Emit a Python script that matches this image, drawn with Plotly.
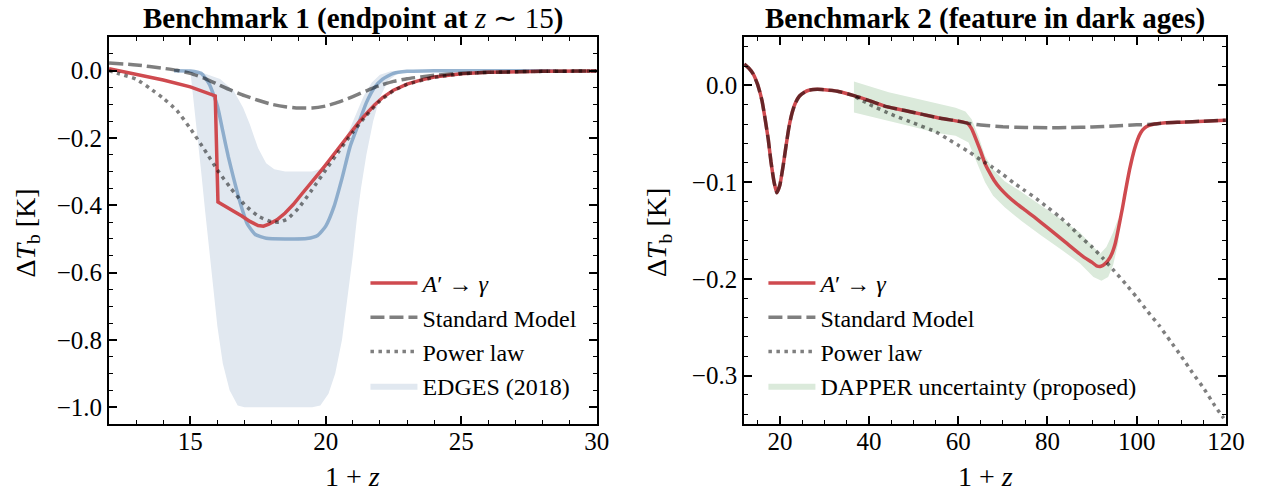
import plotly.graph_objects as go

FONT = "Liberation Serif"

# ---------------- Benchmark 1 (left panel) ----------------
red1_x = [12, 13, 14, 15, 15.5, 15.92, 16.02, 16.3, 16.6, 16.9, 17.2, 17.5, 17.7, 17.9, 18.2, 18.5,
          18.8, 19.1, 19.4, 19.7, 20.0, 20.3, 20.6, 20.9, 21.2, 21.5, 21.8, 22.1, 22.5, 23, 23.5,
          24, 25, 26, 27, 28, 30]
red1_y = [0.006, -0.010, -0.028, -0.048, -0.062, -0.075, -0.390, -0.405, -0.418, -0.432, -0.448,
          -0.460, -0.462, -0.456, -0.443, -0.423, -0.398, -0.368, -0.340, -0.310, -0.280, -0.248,
          -0.215, -0.183, -0.155, -0.128, -0.102, -0.080, -0.058, -0.040, -0.028, -0.019, -0.009,
          -0.005, -0.003, -0.002, -0.001]

sm1_x = [12, 13, 14, 14.5, 15, 15.5, 16, 16.5, 17, 17.5, 18, 18.5, 19, 19.5, 20, 20.5, 21, 21.5,
         22, 22.5, 23, 24, 25, 26, 28, 30]
sm1_y = [0.023, 0.017, 0.007, 0.001, -0.008, -0.022, -0.040, -0.058, -0.074, -0.088, -0.100,
         -0.107, -0.111, -0.111, -0.105, -0.093, -0.077, -0.060, -0.044, -0.032, -0.024, -0.014,
         -0.008, -0.005, -0.002, -0.001]

pl1_x = [12, 12.4, 13, 13.5, 14, 14.5, 15, 15.5, 16, 16.5, 17, 17.5, 18, 18.3, 18.6, 19, 19.5,
         20, 20.5, 21, 21.5, 22, 22.5, 23, 24, 25, 26, 28, 30]
pl1_y = [0.0, -0.010, -0.025, -0.052, -0.082, -0.118, -0.172, -0.232, -0.295, -0.350, -0.398,
         -0.432, -0.449, -0.450, -0.440, -0.408, -0.353, -0.295, -0.238, -0.183, -0.133, -0.090,
         -0.060, -0.041, -0.020, -0.010, -0.005, -0.002, -0.001]

edges_fit_x = [14.4, 15.0, 15.4, 15.7, 16.0, 16.2, 16.4, 16.6, 16.85, 17.1, 17.4, 17.8, 18.5, 19.3,
               19.7, 20.0, 20.3, 20.6, 20.9, 21.2, 21.5, 21.8, 22.1, 22.5, 23, 24, 28.5]
edges_fit_y = [0.0, -0.001, -0.008, -0.040, -0.105, -0.180, -0.255, -0.320, -0.395, -0.455, -0.487,
               -0.498, -0.500, -0.499, -0.490, -0.462, -0.405, -0.320, -0.225, -0.160, -0.095,
               -0.050, -0.025, -0.008, -0.002, 0.0, 0.0]

edges_upper_x = [15.0, 15.5, 16.1, 16.6, 16.95, 17.2, 17.5, 17.8, 18.1, 18.5, 19.5, 19.9, 20.2,
                 20.5, 20.8, 21.1, 21.4, 21.7, 22.0, 22.4, 22.8]
edges_upper_y = [0.0, -0.008, -0.025, -0.060, -0.110, -0.160, -0.230, -0.275, -0.293, -0.300,
                 -0.300, -0.290, -0.270, -0.240, -0.190, -0.130, -0.075, -0.035, -0.012, -0.002, 0.0]
edges_lower_x = [15.0, 15.1, 15.25, 15.4, 15.55, 15.7, 15.85, 16.0, 16.2, 16.45, 16.75, 17.0, 19.5,
                 19.8, 20.1, 20.35, 20.6, 20.8, 21.0, 21.15, 21.3, 21.5, 21.75, 22.0, 22.3, 22.8]
edges_lower_y = [0.0, -0.080, -0.190, -0.300, -0.420, -0.530, -0.650, -0.760, -0.870, -0.950,
                 -0.995, -1.000, -1.000, -0.995, -0.960, -0.900, -0.800, -0.680, -0.550, -0.440,
                 -0.350, -0.250, -0.150, -0.080, -0.030, 0.0]

# ---------------- Benchmark 2 (right panel) ----------------
red2_x = [12, 13, 14, 15, 16, 16.7, 17.4, 18, 18.7, 19.3, 20, 20.7, 21.4, 22, 22.7, 23.5, 24.4,
          25.5, 26.5, 28.4, 30, 32.9, 36.6, 40.2, 43.9, 48, 52, 56, 60, 62, 63, 64, 65, 66, 67,
          68, 69.5, 71, 73, 75, 77, 80, 84, 88, 90, 91, 92, 93, 94, 94.6, 95.1, 95.6, 96.2,
          96.8, 97.3, 97.9, 98.4, 99, 99.5, 100.2, 100.9, 101.8, 102.8, 104, 106.5, 110, 115, 120]
red2_y = [0.022, 0.018, 0.012, 0.001, -0.016, -0.035, -0.056, -0.079, -0.100, -0.111, -0.103,
          -0.084, -0.062, -0.044, -0.029, -0.018, -0.011, -0.007, -0.005, -0.004, -0.0045,
          -0.006, -0.0106, -0.016, -0.022, -0.026, -0.030, -0.034, -0.037, -0.039, -0.045,
          -0.056, -0.068, -0.081, -0.090, -0.098, -0.107, -0.114, -0.122, -0.129, -0.136,
          -0.147, -0.162, -0.177, -0.183, -0.1865, -0.187, -0.184, -0.178, -0.172, -0.165,
          -0.155, -0.141, -0.127, -0.114, -0.099, -0.087, -0.075, -0.066, -0.056, -0.049,
          -0.044, -0.0414, -0.040, -0.0386, -0.038, -0.037, -0.036]

sm2_x = [12, 13, 14, 15, 16, 16.7, 17.4, 18, 18.7, 19.3, 20, 20.7, 21.4, 22, 22.7, 23.5, 24.4,
         25.5, 26.5, 28.4, 30, 32.9, 36.6, 40.2, 43.9, 48, 52, 56, 60, 62, 65, 70, 75, 80, 85,
         90, 95, 100, 104, 106.5, 110, 115, 120]
sm2_y = [0.022, 0.018, 0.012, 0.001, -0.016, -0.035, -0.056, -0.079, -0.100, -0.111, -0.103,
         -0.084, -0.062, -0.044, -0.029, -0.018, -0.011, -0.007, -0.005, -0.004, -0.0045,
         -0.006, -0.0106, -0.016, -0.022, -0.026, -0.030, -0.034, -0.037, -0.039, -0.041,
         -0.0428, -0.0435, -0.0438, -0.0436, -0.043, -0.042, -0.0408, -0.040, -0.0386, -0.038,
         -0.037, -0.036]

pl2_x = [37, 40, 45, 50, 55, 57.5, 60, 62.5, 65, 67.5, 70, 72.5, 75, 77.5, 80, 82.5, 85, 87.5,
         90, 92.5, 95, 97.5, 100, 102.5, 105, 107.5, 110, 112.5, 115, 117.5, 119.5]
pl2_y = [-0.012, -0.0195, -0.030, -0.039, -0.048, -0.055, -0.062, -0.069, -0.077, -0.084,
         -0.092, -0.101, -0.109, -0.117, -0.126, -0.135, -0.145, -0.157, -0.167, -0.179, -0.192,
         -0.205, -0.219, -0.234, -0.248, -0.264, -0.280, -0.297, -0.313, -0.331, -0.344]

dapper_upper_x = [36.6, 40, 44.4, 50, 55, 59.4, 61.6, 63, 64.5, 66, 67.8, 70.4, 74.1, 78.5, 82.9,
                  87.3, 90.3, 91.8, 93.2, 94.7, 95.9]
dapper_upper_y = [0.004, -0.001, -0.007, -0.013, -0.018, -0.023, -0.027, -0.035, -0.052, -0.073,
                  -0.087, -0.099, -0.110, -0.124, -0.138, -0.152, -0.167, -0.174, -0.167, -0.152,
                  -0.137]
dapper_lower_x = [36.6, 40, 44.4, 50, 54.9, 59.4, 62.3, 64.5, 66, 67.8, 70.4, 74.1, 78.5, 82.9,
                  87.3, 90.3, 92.1, 93.6, 94.7, 95.9]
dapper_lower_y = [-0.028, -0.032, -0.037, -0.043, -0.049, -0.052, -0.059, -0.083, -0.100, -0.114,
                  -0.126, -0.140, -0.155, -0.169, -0.184, -0.198, -0.202, -0.198, -0.186, -0.162]

# ---------------- styles ----------------
RED = "#cf4a4f"
DARK = "rgba(0,0,0,0.5)"
EDGES_FILL = "#e1e8f0"
EDGES_LINE = "rgba(110,150,190,0.72)"
DAPPER_FILL = "#dbeadb"
LW = 3.5

fig = go.Figure()

# left panel
fig.add_trace(go.Scatter(
    x=edges_upper_x + edges_lower_x[::-1], y=edges_upper_y + edges_lower_y[::-1],
    fill="toself", fillcolor=EDGES_FILL, line=dict(width=0), mode="lines",
    name="EDGES (2018)", legend="legend", legendrank=4, legendgroup="e",
    xaxis="x", yaxis="y", hoverinfo="skip"))
fig.add_trace(go.Scatter(
    x=edges_fit_x, y=edges_fit_y, mode="lines", line=dict(color=EDGES_LINE, width=LW, shape="spline", smoothing=0.5),
    showlegend=False, xaxis="x", yaxis="y"))
fig.add_trace(go.Scatter(
    x=red1_x, y=red1_y, mode="lines", line=dict(color=RED, width=LW),
    name="<i>A</i>′ → <i>γ</i>", legend="legend", legendrank=1, legendgroup="a", xaxis="x", yaxis="y"))
fig.add_trace(go.Scatter(
    x=sm1_x, y=sm1_y, mode="lines", line=dict(color=DARK, width=LW, dash="14px,5px", shape="spline", smoothing=0.5),
    name="Standard Model", legend="legend", legendrank=2, legendgroup="b", xaxis="x", yaxis="y"))
fig.add_trace(go.Scatter(
    x=pl1_x, y=pl1_y, mode="lines", line=dict(color=DARK, width=LW, dash="3.5px,4.5px", shape="spline", smoothing=0.5),
    name="Power law", legend="legend", legendrank=3, legendgroup="c", xaxis="x", yaxis="y"))

# right panel
fig.add_trace(go.Scatter(
    x=dapper_upper_x + dapper_lower_x[::-1], y=dapper_upper_y + dapper_lower_y[::-1],
    fill="toself", fillcolor=DAPPER_FILL, line=dict(width=0), mode="lines",
    name="DAPPER uncertainty (proposed)", legend="legend2", legendrank=4, legendgroup="e2",
    xaxis="x2", yaxis="y2", hoverinfo="skip"))
fig.add_trace(go.Scatter(
    x=red2_x, y=red2_y, mode="lines", line=dict(color=RED, width=LW, shape="spline", smoothing=0.4),
    name="<i>A</i>′ → <i>γ</i>", legend="legend2", legendrank=1, legendgroup="a2", xaxis="x2", yaxis="y2"))
fig.add_trace(go.Scatter(
    x=sm2_x, y=sm2_y, mode="lines", line=dict(color=DARK, width=LW, dash="14px,5px", shape="spline", smoothing=0.4),
    name="Standard Model", legend="legend2", legendrank=2, legendgroup="b2", xaxis="x2", yaxis="y2"))
fig.add_trace(go.Scatter(
    x=pl2_x, y=pl2_y, mode="lines", line=dict(color=DARK, width=LW, dash="3.5px,4.5px", shape="spline", smoothing=0.4),
    name="Power law", legend="legend2", legendrank=3, legendgroup="c2", xaxis="x2", yaxis="y2"))

W, H = 1271, 491


def px_x(p):
    return p / W


def px_y(p):
    return 1 - p / H


def axis(domain, rng, dtick, minor_dtick, fmt, anchor, standoff):
    return dict(
        domain=domain, range=rng, dtick=dtick, tick0=0, tickformat=fmt, anchor=anchor,
        showline=True, linecolor="black", linewidth=2, mirror="allticks",
        ticks="inside", ticklen=8, tickwidth=1.5, tickcolor="black",
        showgrid=False, zeroline=False, ticklabelstandoff=standoff,
        tickfont=dict(family=FONT, size=25, color="black"),
        minor=dict(dtick=minor_dtick, ticks="inside", ticklen=4, tickwidth=1.2, tickcolor="black", showgrid=False),
    )


ydom = [px_y(424), px_y(37)]
leg_common = dict(xanchor="left", yanchor="top", bgcolor="rgba(0,0,0,0)",
                  font=dict(family=FONT, size=24, color="black"), traceorder="grouped",
                  tracegroupgap=0, itemwidth=47)
fig.update_layout(
    width=W, height=H, margin=dict(l=0, r=0, t=0, b=0),
    paper_bgcolor="white", plot_bgcolor="white",
    font=dict(family=FONT, size=24, color="black"),
    xaxis=axis([px_x(110.7), px_x(605.7)], [12, 30], 5, 1, "d", "y", -6),
    yaxis=axis(ydom, [-1.05, 0.1], 0.2, 0.05, ".1f", "x", 0),
    xaxis2=axis([px_x(755.5), px_x(1244.5)], [12, 120], 20, 5, "d", "y2", -6),
    yaxis2=axis(ydom, [-0.35, 0.05], 0.1, 0.02, ".1f", "x2", 0),
    legend=dict(x=px_x(371), y=px_y(261), **leg_common),
    legend2=dict(x=px_x(775), y=px_y(261), **leg_common),
    annotations=[
        dict(text="<b>Benchmark 1 (endpoint at </b><i>z</i> ∼ 15<b>)</b>", x=px_x(358), y=px_y(19),
             xref="paper", yref="paper", showarrow=False, xanchor="center", yanchor="middle",
             font=dict(family=FONT, size=29)),
        dict(text="<b>Benchmark 2 (feature in dark ages)</b>", x=px_x(1000), y=px_y(19),
             xref="paper", yref="paper", showarrow=False, xanchor="center", yanchor="middle",
             font=dict(family=FONT, size=29)),
        dict(text="1 + <i>z</i>", x=px_x(358), y=px_y(476), xref="paper", yref="paper",
             showarrow=False, xanchor="center", yanchor="middle", font=dict(family=FONT, size=28)),
        dict(text="1 + <i>z</i>", x=px_x(1000), y=px_y(476), xref="paper", yref="paper",
             showarrow=False, xanchor="center", yanchor="middle", font=dict(family=FONT, size=28)),
        dict(text="Δ<i>T</i><sub>b</sub> [K]", x=px_x(27), y=px_y(233), xref="paper", yref="paper",
             showarrow=False, xanchor="center", yanchor="middle", textangle=-90, font=dict(family=FONT, size=28)),
        dict(text="Δ<i>T</i><sub>b</sub> [K]", x=px_x(668), y=px_y(233), xref="paper", yref="paper",
             showarrow=False, xanchor="center", yanchor="middle", textangle=-90, font=dict(family=FONT, size=28)),
    ],
)

fig.write_html("out.html")
